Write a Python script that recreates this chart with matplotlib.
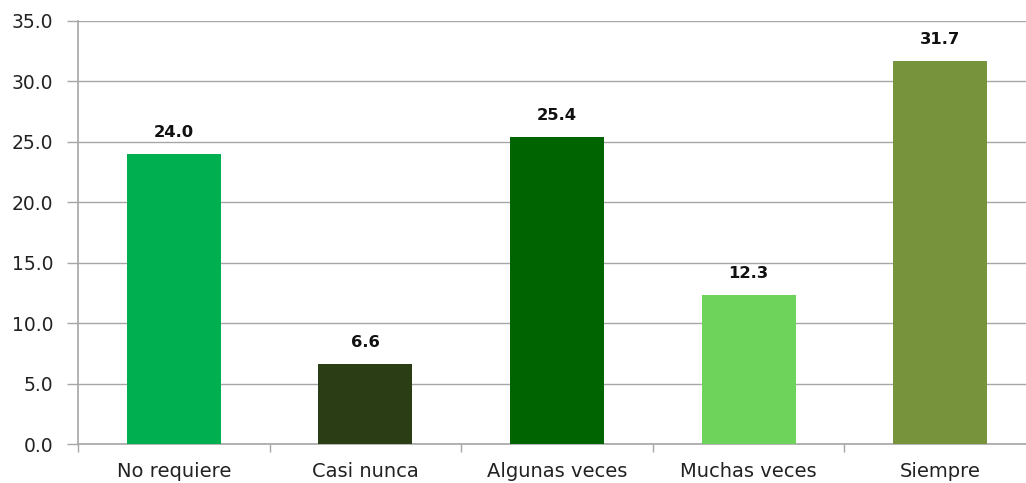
import matplotlib

matplotlib.use("Agg")
import matplotlib.pyplot as plt  # noqa: E402
from matplotlib.ticker import FixedLocator, NullFormatter  # noqa: E402

categories = ["No requiere", "Casi nunca", "Algunas veces", "Muchas veces", "Siempre"]
values = [24.0, 6.6, 25.4, 12.3, 31.7]
colors = ["#00B050", "#2A3D14", "#006400", "#6DD35A", "#77933C"]
yticks = [0, 5, 10, 15, 20, 25, 30, 35]

W, H, DPI = 1026, 483, 100


def main() -> None:
    plt.rcParams.update({"font.family": "DejaVu Sans"})
    fig = plt.figure(figsize=(W / DPI, H / DPI), dpi=DPI)
    # plot area runs a little past the right edge of the picture, as in the reference
    left, right, top, bottom = 78, 1036, 21, 444
    ax = fig.add_axes([left / W, 1 - bottom / H, (right - left) / W, (bottom - top) / H])

    x = list(range(len(categories)))
    bars = ax.bar(x, values, width=0.49, color=colors, zorder=3)
    for bar, v in zip(bars, values):
        ax.annotate(f"{v:.1f}", (bar.get_x() + bar.get_width() / 2, v),
                    xytext=(0, 15.5), textcoords="offset points", ha="center", va="center",
                    fontsize=11.8, fontweight="bold", color="#111111")

    ax.set_xlim(-0.5, len(categories) - 0.5)
    ax.set_ylim(0, 35)
    ax.set_yticks(yticks, [f"{t:.1f}" for t in yticks])
    ax.yaxis.grid(True, color="#A6A6A6", linewidth=1.0, zorder=0)

    ax.set_xticks(x, categories)
    ax.xaxis.set_minor_locator(FixedLocator([i - 0.5 for i in range(len(categories) + 1)]))
    ax.xaxis.set_minor_formatter(NullFormatter())
    ax.tick_params(axis="x", which="major", length=0, pad=13, labelsize=14, labelcolor="#222222")
    ax.tick_params(axis="x", which="minor", length=6, width=1, color="#A6A6A6")
    ax.tick_params(axis="y", length=8, width=1, color="#A6A6A6", labelsize=13.5,
                   labelcolor="#222222", pad=10)

    for side in ("top", "right"):
        ax.spines[side].set_visible(False)
    for side in ("left", "bottom"):
        ax.spines[side].set_color("#A6A6A6")
        ax.spines[side].set_linewidth(1.2)

    fig.savefig("out.png", dpi=DPI)
    plt.close(fig)


if __name__ == "__main__":
    main()
